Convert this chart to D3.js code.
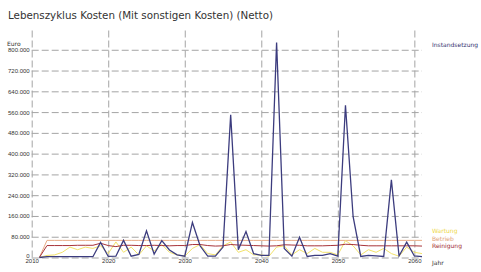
<!DOCTYPE html>
<html lang="de">
<head>
<meta charset="UTF-8" />
<title>Lebenszyklus Kosten</title>
<script src="https://d3js.org/d3.v7.min.js"></script>
<style>
    body { margin: 0; background: #fff; font-family: "DejaVu Sans", sans-serif; }
    .grid line { stroke: #a4a4a4; stroke-width: 1; stroke-dasharray: 7,3; }
    .tick text { fill: #333; font-size: 6px; }
</style>
</head>
<body>
<svg id="chart"></svg>
<script>
    const years = [2011, 2012, 2013, 2014, 2015, 2016, 2017, 2018, 2019, 2020,
        2021, 2022, 2023, 2024, 2025, 2026, 2027, 2028, 2029, 2030,
        2031, 2032, 2033, 2034, 2035, 2036, 2037, 2038, 2039, 2040,
        2041, 2042, 2043, 2044, 2045, 2046, 2047, 2048, 2049, 2050,
        2051, 2052, 2053, 2054, 2055, 2056, 2057, 2058, 2059, 2060, 2061];

    const instandsetzung = [0, 3000, 3000, 3000, 3000, 3000, 3000, 3000, 58000, 4000,
        5000, 66000, 5000, 12000, 103000, 13000, 65000, 29000, 10000, 5000,
        135000, 45000, 5000, 5000, 40000, 550000, 30000, 100000, 15000, 8000,
        8000, 828000, 35000, 5000, 78000, 4000, 8000, 8000, 15000, 5000,
        586000, 157000, 4000, 8000, 6000, 4000, 299000, 6000, 59000, 6000, 3000];

    const wartung = [0, 8000, 10000, 20000, 40000, 30000, 40000, 35000, 45000, 15000,
        60000, 20000, 40000, 10000, 45000, 25000, 50000, 20000, 10000, 5000,
        35000, 50000, 15000, 10000, 45000, 60000, 20000, 30000, 10000, 10000,
        5000, 40000, 45000, 10000, 30000, 15000, 35000, 20000, 20000, 10000,
        65000, 45000, 10000, 30000, 20000, 35000, 15000, 5000, 40000, 20000, 15000];

    const betrieb = [0, 66000, 66000, 66000, 66000, 66000, 66000, 66000, 66000, 66000,
        66000, 66000, 66000, 66000, 66000, 66000, 66000, 66000, 66000, 66000,
        66000, 66000, 66000, 66000, 66000, 66000, 66000, 66000, 66000, 66000,
        66000, 66000, 66000, 66000, 66000, 66000, 66000, 66000, 66000, 66000,
        66000, 66000, 66000, 66000, 66000, 66000, 66000, 66000, 66000, 66000, 66000];

    const reinigung = [0, 46000, 46000, 46000, 46000, 47000, 47000, 47000, 55000, 46000,
        42000, 47000, 47000, 46000, 46000, 47000, 46000, 45000, 46000, 46000,
        50000, 50000, 46000, 44000, 45000, 50000, 48000, 47000, 46000, 45000,
        44000, 45000, 49000, 48000, 47000, 45000, 45000, 45000, 46000, 47000,
        51000, 50000, 47000, 45000, 45000, 45000, 45000, 45000, 45000, 45000, 44000];

    const xTicks = [2010, 2020, 2030, 2040, 2050, 2060];
    const yTicks = [0, 80000, 160000, 240000, 320000, 400000, 480000, 560000, 640000, 720000, 800000];

    const series = [
        { name: "Betrieb", values: betrieb, color: "#e8ab85" },
        { name: "Wartung", values: wartung, color: "#f2e26a" },
        { name: "Reinigung", values: reinigung, color: "#a8343a" },
        { name: "Instandsetzung", values: instandsetzung, color: "#3c3c7e" }
    ];

    const width = 481, height = 272;
    const margin = { top: 29, right: 59, bottom: 14.5, left: 31.7 };

    const svg = d3.select("#chart").attr("width", width).attr("height", height);

    const x = d3.scaleLinear()
        .domain([2010, 2061])
        .range([margin.left, width - margin.right]);

    const y = d3.scaleLinear()
        .domain([0, 880000])
        .range([height - margin.bottom, margin.top]);

    const fmt = d => d === 0 ? "0" : d3.format(",")(d).replace(/,/g, ".");

    // horizontal grid + y labels
    svg.append("g")
        .attr("class", "grid")
        .attr("transform", `translate(${margin.left},0)`)
        .call(d3.axisLeft(y).tickValues(yTicks).tickSize(-(width - margin.right - margin.left)).tickFormat(fmt).tickPadding(2))
        .call(g => g.select(".domain").remove())
        .call(g => g.selectAll(".tick text").attr("dy", d => d === 0 ? "-0.05em" : "0.32em"));

    // vertical grid + x labels
    svg.append("g")
        .attr("class", "grid")
        .attr("transform", `translate(0,${height - margin.bottom})`)
        .call(d3.axisBottom(x).tickValues(xTicks).tickSize(-(height - margin.bottom - margin.top)).tickFormat(d3.format("d")).tickPadding(1.5))
        .call(g => g.select(".domain").remove());

    const line = d3.line()
        .x((d, i) => x(years[i]))
        .y(d => y(d));

    svg.append("g")
        .attr("fill", "none")
        .selectAll("path")
        .data(series)
        .join("path")
        .attr("stroke", d => d.color)
        .attr("stroke-width", d => d.name === "Instandsetzung" ? 1.3 : 1)
        .attr("d", d => line(d.values));

    // title
    svg.append("text")
        .attr("x", 8)
        .attr("y", 19)
        .attr("fill", "#333")
        .attr("font-size", 10.3)
        .text("Lebenszyklus Kosten (Mit sonstigen Kosten) (Netto)");

    svg.append("text")
        .attr("x", 7)
        .attr("y", 46)
        .attr("fill", "#333")
        .attr("font-size", 6)
        .text("Euro");

    svg.append("text")
        .attr("x", 432)
        .attr("y", 265)
        .attr("fill", "#333")
        .attr("font-size", 6)
        .text("Jahr");

    // legend
    const legend = [
        { name: "Instandsetzung", color: "#333370", y: 47 },
        { name: "Wartung", color: "#eed84a", y: 233 },
        { name: "Betrieb", color: "#e0a078", y: 240.5 },
        { name: "Reinigung", color: "#a02c34", y: 248 }
    ];

    svg.append("g")
        .selectAll("text")
        .data(legend)
        .join("text")
        .attr("x", 432)
        .attr("y", d => d.y)
        .attr("fill", d => d.color)
        .attr("font-size", 6)
        .text(d => d.name);
</script>
</body>
</html>
